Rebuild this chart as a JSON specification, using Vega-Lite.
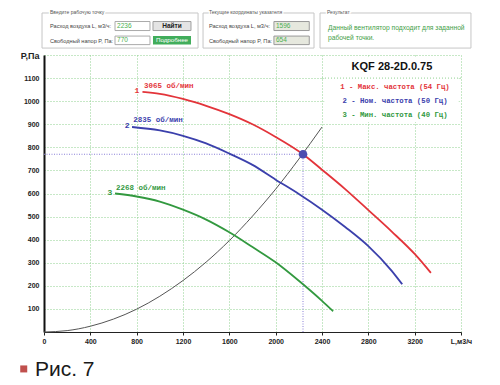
{
"$schema": "https://vega.github.io/schema/vega-lite/v6.json",
"width": 417, "height": 277,
"autosize": {"type": "none"},
"padding": {"left": 44, "top": 55, "right": 39, "bottom": 53},
"background": "white",
"config": {"view": {"stroke": null}, "font": "Liberation Sans"},
"encoding": {
  "x": {"field": "L", "type": "quantitative",
    "scale": {"domain": [0, 3600], "nice": false, "zero": false},
    "axis": {"values": [0,400,800,1200,1600,2000,2400,2800,3200,3600], "format": "d",
      "labelExpr": "datum.value == 3600 ? 'L,м3/ч' : datum.label",
      "title": null, "grid": true, "gridColor": "#8fd18f", "gridDash": [1,2], "gridWidth": 1,
      "domainColor": "#222", "domainWidth": 1, "tickColor": "#222", "tickSize": 3,
      "labelFont": "Liberation Sans", "labelFontWeight": "bold", "labelFontSize": 7, "labelColor": "#222",
      "labelPadding": 2, "labelFlush": false, "labelOverlap": false}},
  "y": {"field": "P", "type": "quantitative",
    "scale": {"domain": [0, 1200], "nice": false, "zero": false},
    "axis": {"values": [100,200,300,400,500,600,700,800,900,1000,1100,1200], "format": "d",
      "labelExpr": "datum.value == 1200 ? 'Р,Па' : datum.label",
      "title": null, "grid": true, "gridColor": "#8fd18f", "gridDash": [1,2], "gridWidth": 1,
      "domainColor": "#111", "domainWidth": 2, "ticks": false,
      "labelFont": "Liberation Sans", "labelFontWeight": "bold",
      "labelFontSize": {"condition": {"test": "datum.value == 1200", "value": 9}, "value": 7},
      "labelColor": "#222", "labelPadding": 5, "labelOverlap": false}}
},
"layer": [
  {"data": {"values": [{"L": 2420, "L2": 3580, "P": 910, "P2": 1192}]},
   "mark": {"type": "rect", "fill": "white"},
   "encoding": {"x2": {"field": "L2"}, "y2": {"field": "P2"}}},
  {"data": {"values": [{"L": 2400, "L2": 3600, "P": 1100}]},
   "mark": {"type": "rule", "color": "#8fd18f", "strokeDash": [1,2], "strokeWidth": 1},
   "encoding": {"x2": {"field": "L2"}}},
  {"data": {"values": [{"L": 0, "L2": 2236, "P": 770, "P2": 770}, {"L": 2236, "L2": 2236, "P": 0, "P2": 770}]},
   "mark": {"type": "rule", "color": "#8a80d8", "strokeDash": [1,1.5], "strokeWidth": 1},
   "encoding": {"x2": {"field": "L2"}, "y2": {"field": "P2"}}},
  {"data": {"values": [
     {"L": 0, "P": 0}, {"L": 200, "P": 6}, {"L": 400, "P": 25}, {"L": 600, "P": 56}, {"L": 800, "P": 99},
     {"L": 1000, "P": 155}, {"L": 1200, "P": 223}, {"L": 1400, "P": 303}, {"L": 1600, "P": 396},
     {"L": 1800, "P": 502}, {"L": 2000, "P": 619}, {"L": 2200, "P": 749}, {"L": 2400, "P": 888}]},
   "mark": {"type": "line", "color": "#555", "strokeWidth": 1, "interpolate": "monotone"}},
  {"data": {"values": [
     {"c": "1", "L": 850, "P": 1040}, {"c": "1", "L": 1000, "P": 1032}, {"c": "1", "L": 1200, "P": 1010},
     {"c": "1", "L": 1400, "P": 980}, {"c": "1", "L": 1600, "P": 944}, {"c": "1", "L": 1800, "P": 900},
     {"c": "1", "L": 2000, "P": 845}, {"c": "1", "L": 2236, "P": 770}, {"c": "1", "L": 2400, "P": 703},
     {"c": "1", "L": 2600, "P": 619}, {"c": "1", "L": 2800, "P": 528}, {"c": "1", "L": 3000, "P": 436},
     {"c": "1", "L": 3200, "P": 338}, {"c": "1", "L": 3340, "P": 256},
     {"c": "2", "L": 760, "P": 888}, {"c": "2", "L": 1000, "P": 873}, {"c": "2", "L": 1200, "P": 850},
     {"c": "2", "L": 1400, "P": 817}, {"c": "2", "L": 1600, "P": 773}, {"c": "2", "L": 1800, "P": 724},
     {"c": "2", "L": 2000, "P": 660}, {"c": "2", "L": 2200, "P": 598}, {"c": "2", "L": 2400, "P": 530},
     {"c": "2", "L": 2600, "P": 455}, {"c": "2", "L": 2800, "P": 372}, {"c": "2", "L": 3000, "P": 266},
     {"c": "2", "L": 3092, "P": 207},
     {"c": "3", "L": 613, "P": 600}, {"c": "3", "L": 800, "P": 587}, {"c": "3", "L": 1000, "P": 565},
     {"c": "3", "L": 1200, "P": 530}, {"c": "3", "L": 1400, "P": 487}, {"c": "3", "L": 1600, "P": 432},
     {"c": "3", "L": 1800, "P": 368}, {"c": "3", "L": 2000, "P": 302}, {"c": "3", "L": 2200, "P": 222},
     {"c": "3", "L": 2400, "P": 135}, {"c": "3", "L": 2496, "P": 90}]},
   "mark": {"type": "line", "strokeWidth": 1.8, "interpolate": "monotone"},
   "encoding": {"color": {"field": "c", "type": "nominal", "scale": {"domain": ["1","2","3"], "range": ["#e3343a","#3b40ac","#32993f"]}, "legend": null}}},
  {"data": {"values": [{"L": 2236, "P": 770}]},
   "mark": {"type": "circle", "size": 75, "color": "#4d4db0", "opacity": 1}},
  {"data": {"values": [{"c": "1", "L": 803, "P": 1044, "t": "1"}, {"c": "2", "L": 717, "P": 892, "t": "2"}, {"c": "3", "L": 570, "P": 604, "t": "3"}]},
   "mark": {"type": "text", "font": "Liberation Mono", "fontSize": 8, "fontWeight": "bold", "align": "center", "baseline": "middle"},
   "encoding": {"text": {"field": "t"}, "color": {"field": "c", "type": "nominal", "legend": null}}},
  {"data": {"values": [{"c": "1", "L": 863, "P": 1067, "t": "3065 об/мин"}, {"c": "2", "L": 771, "P": 917, "t": "2835 об/мин"}, {"c": "3", "L": 622, "P": 625, "t": "2268 об/мин"}]},
   "mark": {"type": "text", "font": "Liberation Mono", "fontSize": 7.5, "fontWeight": "bold", "align": "left", "baseline": "middle"},
   "encoding": {"text": {"field": "t"}, "color": {"field": "c", "type": "nominal", "legend": null}}},
  {"data": {"values": [{"L": 3004, "P": 1146, "t": "KQF 28-2D.0.75"}]},
   "mark": {"type": "text", "fontSize": 11, "fontWeight": "bold", "color": "#111", "align": "center", "baseline": "middle"},
   "encoding": {"text": {"field": "t"}}},
  {"data": {"values": [{"c": "1", "L": 3030, "P": 1060, "t": "1 - Макс. частота (54 Гц)"}, {"c": "2", "L": 3030, "P": 1002, "t": "2 - Ном. частота (50 Гц)"}, {"c": "3", "L": 3030, "P": 940, "t": "3 - Мин. частота (40 Гц)"}]},
   "mark": {"type": "text", "font": "Liberation Mono", "fontSize": 7.3, "fontWeight": "bold", "align": "center", "baseline": "middle"},
   "encoding": {"text": {"field": "t"}, "color": {"field": "c", "type": "nominal", "legend": null}}},
  {"data": {"values": [{"L": -17, "L2": 1330, "P": 1230, "P2": 1382}, {"L": 1373, "L2": 2331, "P": 1230, "P2": 1382}, {"L": 2383, "L2": 3686, "P": 1230, "P2": 1382}]},
   "mark": {"type": "rect", "fill": "white", "stroke": "#c6c6c6", "strokeWidth": 1},
   "encoding": {"x2": {"field": "L2"}, "y2": {"field": "P2"}}},
  {"data": {"values": [{"L": 52, "P": 1386, "t": "Введите рабочую точку"}, {"L": 1424, "P": 1386, "t": "Текущие координаты указателя"}, {"L": 2443, "P": 1386, "t": "Результат"}]},
   "mark": {"type": "text", "fontSize": 5, "align": "left", "baseline": "middle", "fill": "white", "stroke": "white", "strokeWidth": 3},
   "encoding": {"text": {"field": "t"}}},
  {"data": {"values": [{"L": 52, "P": 1386, "t": "Введите рабочую точку"}, {"L": 1424, "P": 1386, "t": "Текущие координаты указателя"}, {"L": 2443, "P": 1386, "t": "Результат"}]},
   "mark": {"type": "text", "fontSize": 5, "align": "left", "baseline": "middle", "color": "#555"},
   "encoding": {"text": {"field": "t"}}},
  {"data": {"values": [{"L": 52, "P": 1326, "t": "Расход воздуха L, м3/ч:"}, {"L": 52, "P": 1262, "t": "Свободный напор P, Па:"}, {"L": 1424, "P": 1326, "t": "Расход воздуха L, м3/ч:"}, {"L": 1424, "P": 1262, "t": "Свободный напор P, Па:"}]},
   "mark": {"type": "text", "fontSize": 5.6, "align": "left", "baseline": "middle", "color": "#444"},
   "encoding": {"text": {"field": "t"}}},
  {"data": {"values": [{"L": 613, "L2": 915, "P": 1306, "P2": 1345}, {"L": 613, "L2": 915, "P": 1245, "P2": 1282}]},
   "mark": {"type": "rect", "fill": "white", "stroke": "#aaaaaa", "strokeWidth": 1},
   "encoding": {"x2": {"field": "L2"}, "y2": {"field": "P2"}}},
  {"data": {"values": [{"L": 1985, "L2": 2290, "P": 1306, "P2": 1345}, {"L": 1985, "L2": 2290, "P": 1245, "P2": 1282}]},
   "mark": {"type": "rect", "fill": "#e6e8de", "stroke": "#999999", "strokeWidth": 1},
   "encoding": {"x2": {"field": "L2"}, "y2": {"field": "P2"}}},
  {"data": {"values": [{"L": 631, "P": 1326, "t": "2236"}, {"L": 631, "P": 1264, "t": "770"}, {"L": 2002, "P": 1326, "t": "1596"}, {"L": 2002, "P": 1264, "t": "654"}]},
   "mark": {"type": "text", "fontSize": 6.5, "align": "left", "baseline": "middle", "color": "#4caf50"},
   "encoding": {"text": {"field": "t"}}},
  {"data": {"values": [{"L": 941, "L2": 1269, "P": 1306, "P2": 1345}]},
   "mark": {"type": "rect", "fill": "#e4e4e4", "stroke": "#a0a0a0", "strokeWidth": 1},
   "encoding": {"x2": {"field": "L2"}, "y2": {"field": "P2"}}},
  {"data": {"values": [{"L": 941, "L2": 1269, "P": 1245, "P2": 1282}]},
   "mark": {"type": "rect", "fill": "#41ad5b"},
   "encoding": {"x2": {"field": "L2"}, "y2": {"field": "P2"}}},
  {"data": {"values": [{"L": 1105, "P": 1326, "t": "Найти"}]},
   "mark": {"type": "text", "fontSize": 6.5, "fontWeight": "bold", "align": "center", "baseline": "middle", "color": "#222"},
   "encoding": {"text": {"field": "t"}}},
  {"data": {"values": [{"L": 1105, "P": 1264, "t": "Подробнее"}]},
   "mark": {"type": "text", "fontSize": 6.2, "align": "center", "baseline": "middle", "color": "white"},
   "encoding": {"text": {"field": "t"}}},
  {"data": {"values": [{"L": 2452, "P": 1319, "t": "Данный вентилятор подходит для заданной"}, {"L": 2452, "P": 1274, "t": "рабочей точки."}]},
   "mark": {"type": "text", "fontSize": 6.7, "align": "left", "baseline": "middle", "color": "#43a047"},
   "encoding": {"text": {"field": "t"}}},
  {"data": {"values": [{"L": -175, "P": -160}]},
   "mark": {"type": "square", "size": 49, "color": "#c0504d", "opacity": 1}},
  {"data": {"values": [{"L": -78, "P": -163, "t": "Рис. 7"}]},
   "mark": {"type": "text", "fontSize": 21, "align": "left", "baseline": "middle", "color": "#1a1a1a"},
   "encoding": {"text": {"field": "t"}}}
]
}
